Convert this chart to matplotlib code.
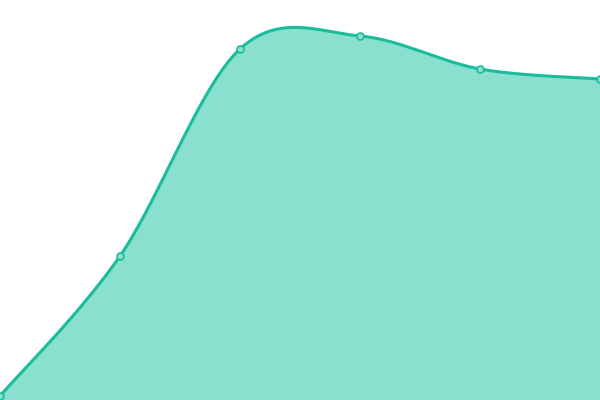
import numpy as np
import matplotlib.pyplot as plt

x_vals = [0, 1, 2, 3, 4, 5]
y_vals = [4, 144, 351, 364, 331, 321]

line_color = '#1abc9c'
fill_color = '#89e0cf'


def smooth(xs, ys, n=60):
    # catmull-rom through the points, ends duplicated
    px = np.array([xs[0]] + list(xs) + [xs[-1]], dtype=float)
    py = np.array([ys[0]] + list(ys) + [ys[-1]], dtype=float)
    out_x, out_y = [], []
    t = np.linspace(0, 1, n)
    for i in range(1, len(px) - 2):
        for p, out in ((px, out_x), (py, out_y)):
            p0, p1, p2, p3 = p[i - 1], p[i], p[i + 1], p[i + 2]
            out.extend(0.5 * ((2 * p1) + (-p0 + p2) * t
                              + (2 * p0 - 5 * p1 + 4 * p2 - p3) * t ** 2
                              + (-p0 + 3 * p1 - 3 * p2 + p3) * t ** 3))
    return np.array(out_x), np.array(out_y)


fig = plt.figure(figsize=(6, 4), dpi=100)
ax = fig.add_axes([0, 0, 1, 1])
sx, sy = smooth(x_vals, y_vals)
ax.fill_between(sx, sy, 0, color=fill_color, lw=0)
ax.plot(sx, sy, color=line_color, lw=2.2, solid_capstyle='round')
ax.plot(x_vals, y_vals, 'o', ms=5, mfc=fill_color, mec=line_color, mew=1.2, clip_on=False)
ax.set_xlim(0, 5)
ax.set_ylim(0, 400)
ax.axis('off')
fig.savefig('out.png')
